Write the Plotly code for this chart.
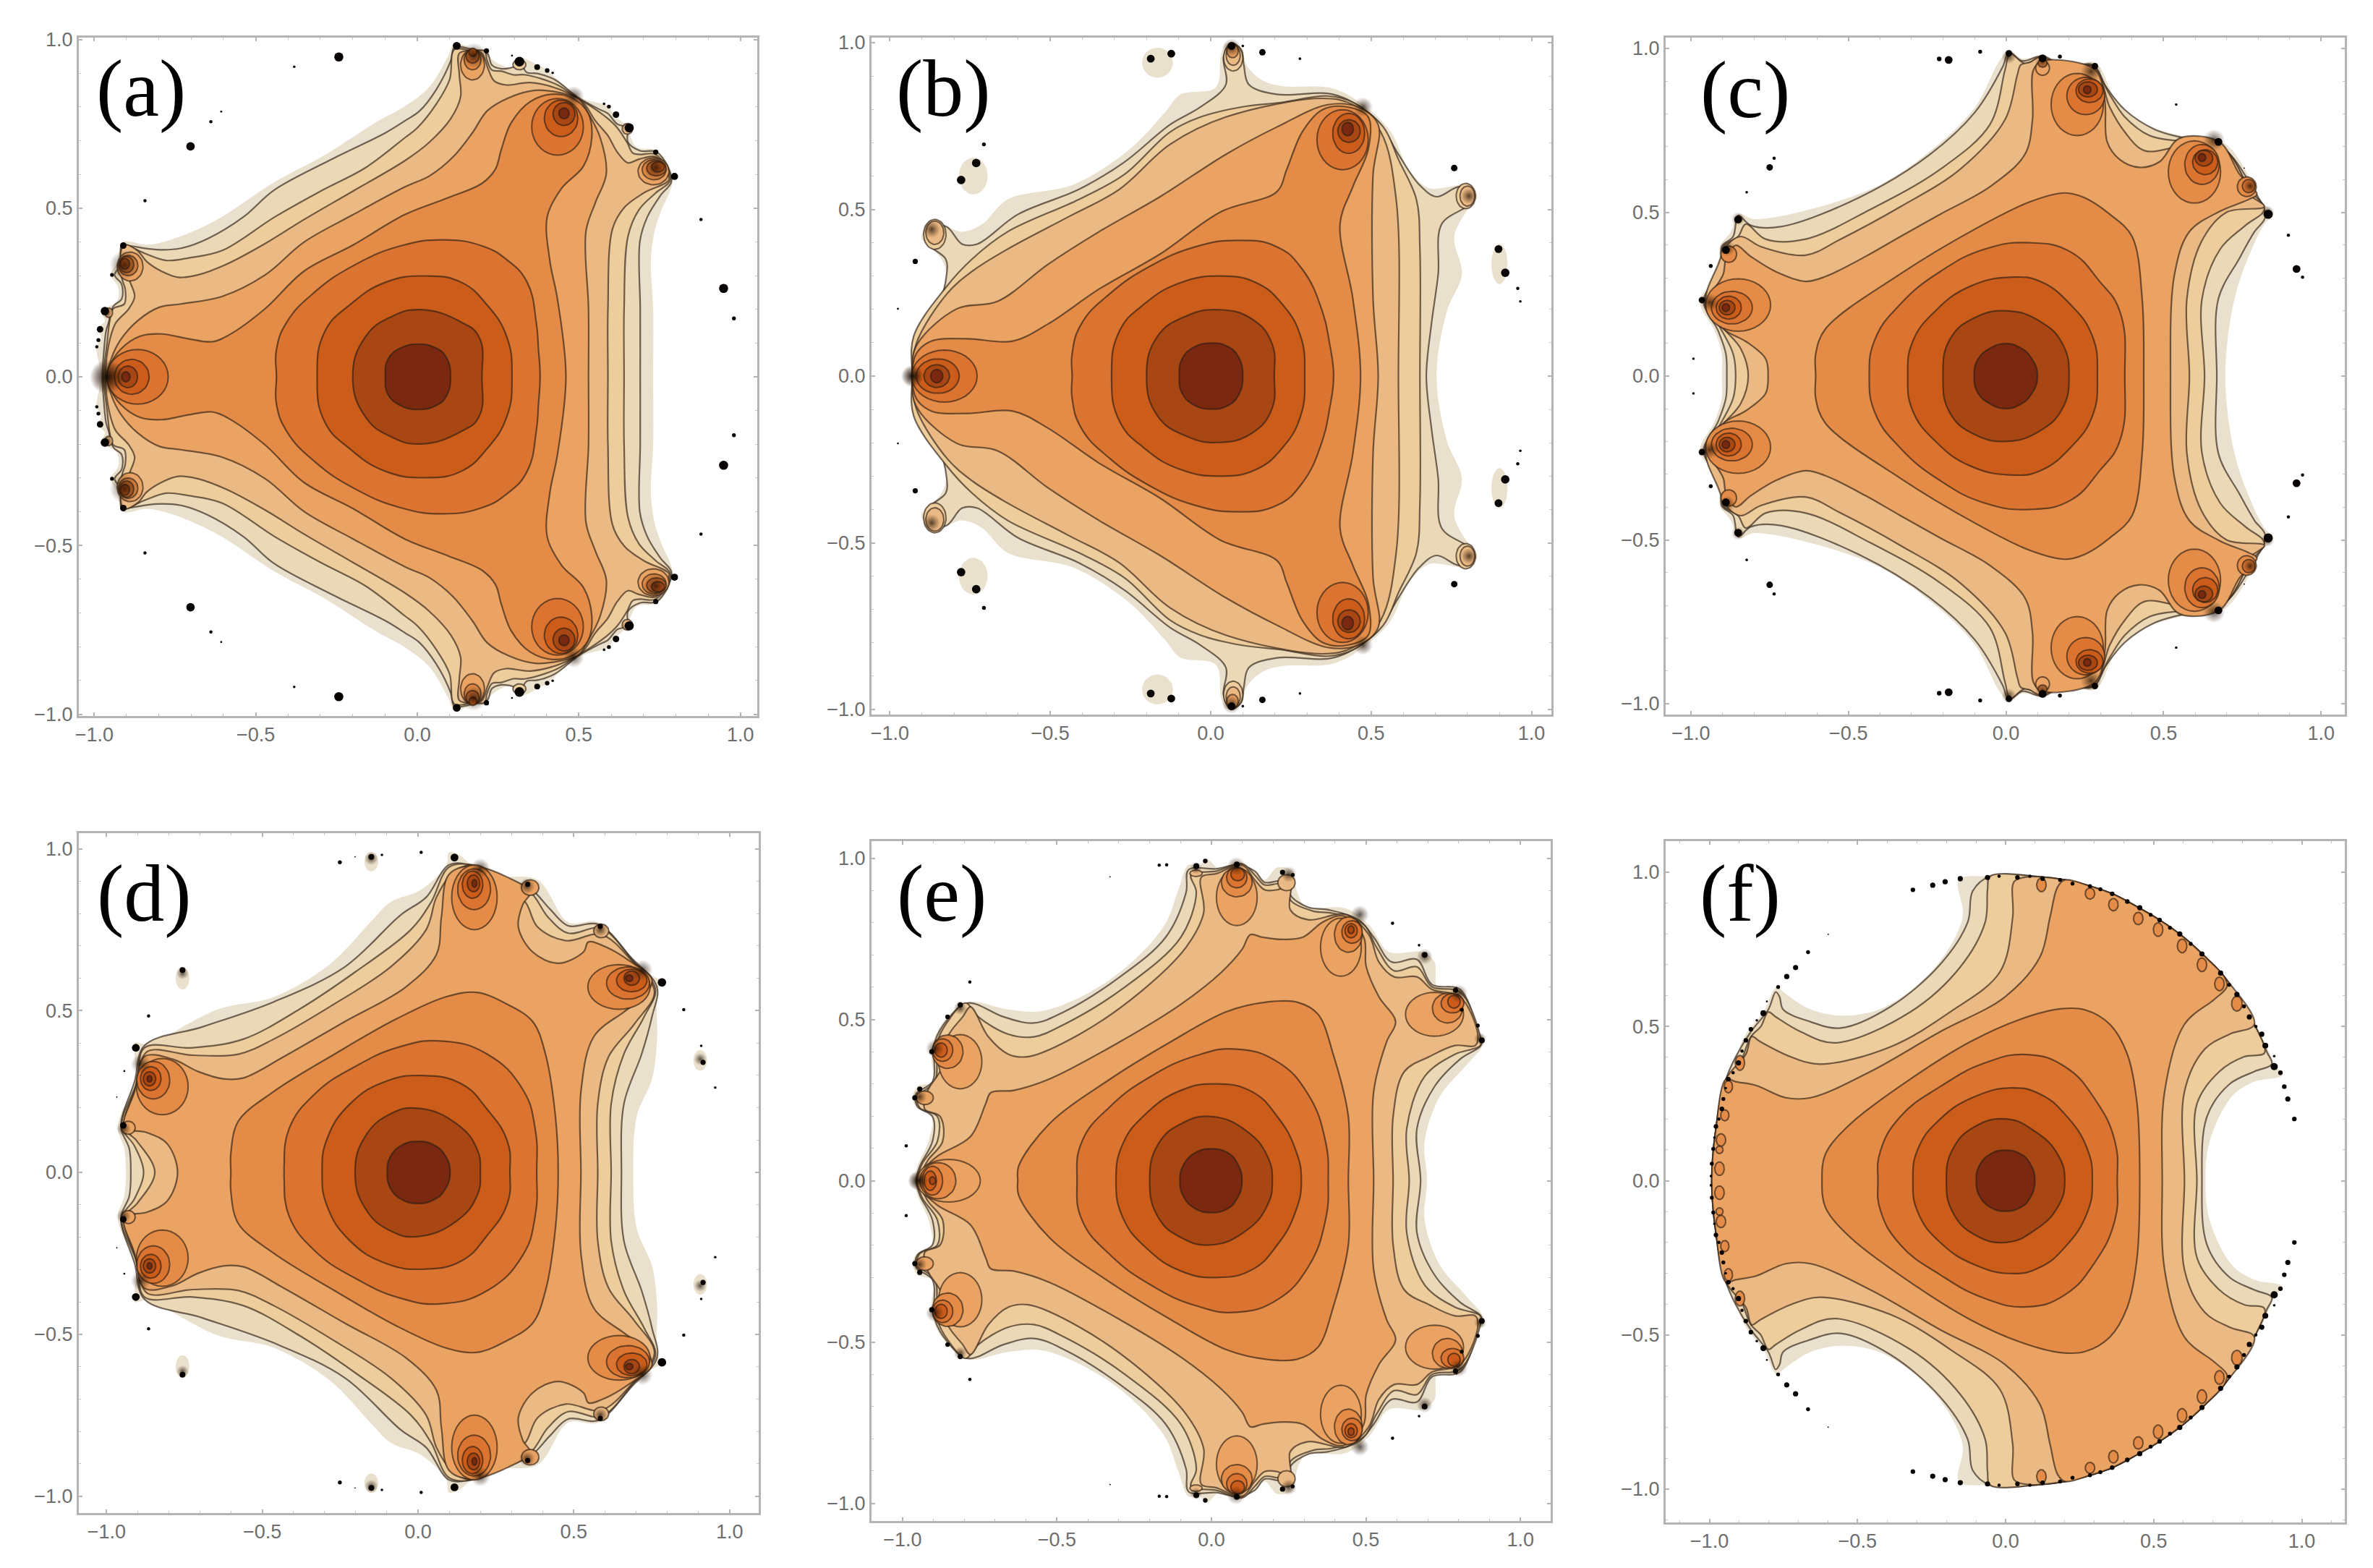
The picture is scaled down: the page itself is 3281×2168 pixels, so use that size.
import numpy as np
import plotly.graph_objects as go

# Band colours, outermost (c0) to innermost (c9)
BAND_COLORS = ["#E9E0CD", "#EAD8B6", "#EECD9D", "#EBB983", "#EAA362",
               "#E48C47", "#DB7431", "#CC5C1A", "#A84714", "#7A2810"]
LINE_COLOR = "rgba(45,30,20,0.66)"
PANEL_NAMES = ["(a)", "(b)", "(c)", "(d)", "(e)", "(f)"]
TICK_VALUES = [-1.0, -0.5, 0.0, 0.5, 1.0]

# ---------- panel (a): upper-half contour curves, data coordinates ----------
A_EDGE = [(.73,0),(.73,.2),(.723,.345),(.734,.431),(.753,.488),(.79,.588),(.742,.67),(.678,.681),(.645,.745),(.611,.774),(.589,.802),(.507,.827),(.425,.888),(.402,.909),(.372,.924),(.32,.945),(.29,.916),(.26,.924),(.227,.945),(.216,.966),(.171,.974),(.115,.988),(.096,.952),(.037,.859),(-.038,.802),(-.13,.753),(-.287,.657),(-.444,.576),(-.605,.474),(-.695,.431),(-.777,.402),(-.837,.391),(-.911,.399),(-.93,.338),(-.949,.302),(-.926,.266),(-.93,.224),(-.978,.195),(-.967,.166),(-.99,.141),(-.978,.116),(-.993,.088),(-.978,0)]
A_L1 = [(.69,0),(.69,.2),(.689,.402),(.712,.474),(.753,.538),(.787,.581),(.742,.666),(.69,.67),(.652,.695),(.649,.738),(.619,.749),(.589,.781),(.559,.795),(.499,.827),(.425,.881),(.372,.899),(.339,.902),(.32,.924),(.29,.916),(.26,.913),(.231,.924),(.216,.959),(.171,.97),(.115,.977),(.104,.938),(.059,.852),(.007,.788),(-.038,.759),(-.099,.723),(-.271,.642),(-.444,.553),(-.538,.474),(-.65,.409),(-.732,.381),(-.807,.377),(-.889,.388),(-.915,.391),(-.919,.331),(-.937,.302),(-.915,.274),(-.915,.231),(-.941,.209),(-.956,.159),(-.963,.138),(-.971,.066),(-.975,0)]
A_L2 = [(.64,0),(.64,.2),(.652,.416),(.686,.495),(.738,.545),(.783,.584),(.738,.659),(.69,.659),(.667,.663),(.649,.695),(.619,.738),(.589,.766),(.537,.802),(.499,.824),(.432,.866),(.335,.895),(.298,.895),(.26,.906),(.231,.909),(.216,.938),(.208,.966),(.171,.966),(.115,.97),(.1,.881),(.059,.809),(0,.738),(-.038,.709),(-.16,.62),(-.3,.55),(-.441,.474),(-.605,.374),(-.71,.352),(-.777,.345),(-.844,.366),(-.9,.388),(-.911,.384),(-.915,.295),(-.904,.259),(-.907,.216),(-.941,.202),(-.952,.166),(-.96,.102),(-.971,0)]
A_L3 = [(.59,0),(.59,.2),(.604,.438),(.641,.502),(.701,.545),(.779,.584),(.768,.613),(.738,.652),(.686,.645),(.652,.634),(.619,.666),(.589,.716),(.551,.759),(.51,.816),(.44,.852),(.35,.872),(.275,.865),(.238,.877),(.219,.913),(.2,.959),(.171,.966),(.13,.959),(.13,.895),(.134,.831),(.104,.766),(.037,.695),(-.038,.641),(-.2,.55),(-.351,.466),(-.471,.395),(-.59,.334),(-.68,.302),(-.74,.295),(-.792,.313),(-.837,.341),(-.866,.374),(-.907,.391),(-.919,.352),(-.889,.281),(-.875,.238),(-.893,.202),(-.934,.159),(-.952,.109),(-.963,.045),(-.965,0)]
A_L4 = [(.53,0),(.53,.2),(.522,.431),(.551,.516),(.585,.602),(.566,.709),(.529,.781),(.499,.824),(.447,.841),(.365,.849),(.283,.827),(.216,.788),(.171,.724),(.111,.652),(.037,.595),(-.038,.563),(-.2,.48),(-.351,.399),(-.471,.302),(-.605,.238),(-.732,.216),(-.799,.206),(-.866,.166),(-.919,.109),(-.948,.052),(-.96,0)]
A_L5 = [(.46,0),(.434,.229),(.41,.345),(.402,.474),(.447,.559),(.514,.624),(.54,.709),(.529,.781),(.484,.824),(.425,.838),(.35,.816),(.29,.752),(.26,.674),(.242,.616),(.201,.574),(.096,.531),(-.038,.481),(-.2,.39),(-.351,.313),(-.471,.202),(-.583,.124),(-.635,.104),(-.71,.113),(-.792,.127),(-.859,.12),(-.919,.081),(-.952,.031),(-.956,0)]
A_L6 = [(.38,0),(.375,.081),(.368,.162),(.34,.28),(.277,.347),(.2,.388),(.08,.406),(-.052,.388),(-.193,.332),(-.318,.251),(-.404,.162),(-.436,.081),(-.436,0)]
A_L7 = [(.293,0),(.277,.118),(.215,.214),(.136,.28),(.027,.299),(-.099,.28),(-.208,.214),(-.287,.133),(-.31,0)]
A_L8 = [(.2,0),(.191,.118),(.136,.162),(.011,.199),(-.083,.177),(-.161,.118),(-.2,0)]
A_L9 = [(.103,0),(.089,.059),(.058,.085),(.003,.097),(-.052,.085),(-.091,.052),(-.099,0)]
# closed side lobes: centre x, centre y, half width, half height, band index
A_LOBES = [(.434,.741,.08,.084,6),(.445,.766,.052,.054,7),(.454,.779,.034,.034,8),(.454,.781,.016,.016,9),
           (.171,.925,.037,.045,4),(.171,.94,.026,.03,5),(.171,.95,.02,.02,6),(.172,.962,.012,.012,7),
           (.731,.609,.048,.04,4),(.733,.614,.037,.03,5),(.74,.618,.03,.022,6),(.745,.622,.02,.015,7),
           (-.889,.327,.04,.043,4),(-.895,.33,.03,.03,5),(-.9,.333,.022,.024,6),(-.905,.335,.014,.016,7),
           (-.866,0,.095,.081,6),(-.884,0,.054,.052,7),(-.896,0,.03,.032,8),(-.902,0,.013,.015,9),
           (-.955,.19,.012,.014,3),(.65,.735,.016,.016,3),(.316,.925,.02,.015,2)]
A_GLOW = [(.175,.952,42),(.484,.831,34),(.738,.62,42),(-.907,.331,48),(-.96,0,56),(.65,.74,16),(-.96,.19,18)]
A_DOTS = [(.122,.981,12),(.214,.966,8),(.316,.934,15),(.371,.918,9),(.402,.908,7),(.419,.901,4),(.578,.809,4),(.593,.801,6),(.615,.777,10),(.656,.738,14),(.738,.666,8),(.796,.594,11),(-.91,.389,10),(-.945,.302,6),(-.967,.195,13),(-.982,.141,10),(-.987,.109,6),(-.992,.089,5),
          (-.243,.948,14),(-.381,.919,4),(-.639,.756,5),(-.607,.786,3),(-.702,.683,13),(-.843,.522,5),(.878,.466,5),(.948,.262,14),(.98,.173,6),(.293,.952,3)]

# ---------- panel (b) ----------
B_EDGE = [(.704,0),(.736,.194),(.783,.306),(.759,.418),(.807,.508),(.831,.538),(.807,.575),(.744,.568),(.68,.564),(.617,.62),(.562,.732),(.475,.814),(.38,.863),(.222,.87),(.158,.889),(.111,.934),(.095,.986),(.047,.997),(.032,.963),(.016,.866),(-.095,.844),(-.142,.792),(-.253,.68),(-.427,.575),(-.633,.53),(-.712,.456),(-.775,.433),(-.823,.448),(-.87,.456),(-.902,.418),(-.839,.351),(-.823,.284),(-.878,.194),(-.926,.082),(-.93,0)]
B_L1 = [(.672,0),(.688,.157),(.709,.306),(.72,.456),(.807,.515),(.823,.545),(.775,.568),(.704,.538),(.649,.575),(.585,.665),(.522,.762),(.427,.829),(.364,.848),(.206,.845),(.119,.874),(.103,.934),(.095,.978),(.063,1.0),(.04,.956),(.047,.874),(-.032,.807),(-.127,.754),(-.269,.642),(-.411,.56),(-.601,.485),(-.728,.396),(-.775,.396),(-.823,.448),(-.878,.452),(-.878,.396),(-.826,.351),(-.823,.306),(-.854,.194),(-.918,.082),(-.93,0)]
B_L2 = [(.652,0),(.652,.381),(.641,.53),(.585,.65),(.538,.747),(.443,.821),(.364,.84),(.222,.821),(.095,.807),(-.032,.777),(-.127,.732),(-.269,.605),(-.411,.53),(-.633,.433),(-.744,.351),(-.823,.269),(-.926,.119),(-.93,0)]
B_L3 = [(.585,0),(.578,.53),(.53,.732),(.443,.814),(.348,.833),(.047,.777),(-.127,.695),(-.285,.56),(-.443,.478),(-.633,.381),(-.744,.314),(-.823,.246),(-.918,.097),(-.93,0)]
B_L4 = [(.522,0),(.506,.232),(.506,.605),(.522,.754),(.459,.807),(.364,.814),(.206,.747),(.047,.665),(-.158,.538),(-.348,.433),(-.506,.336),(-.665,.224),(-.791,.202),(-.918,.09),(-.93,0)]
B_L5 = [(.467,0),(.443,.232),(.403,.456),(.443,.568),(.491,.68),(.491,.777),(.427,.807),(.348,.799),(.285,.732),(.237,.62),(.206,.553),(.032,.493),(-.158,.366),(-.348,.261),(-.506,.157),(-.617,.105),(-.759,.112),(-.87,.105),(-.918,.067),(-.93,0)]
B_L6 = [(.383,0),(.37,.1),(.348,.194),(.285,.321),(.206,.388),(.08,.407),(-.047,.388),(-.19,.329),(-.316,.246),(-.403,.157),(-.432,.067),(-.432,0)]
B_L7 = [(.293,0),(.28,.12),(.222,.217),(.142,.28),(.032,.3),(-.095,.28),(-.206,.217),(-.285,.134),(-.309,0)]
B_L8 = [(.198,0),(.19,.1),(.127,.172),(.024,.199),(-.079,.179),(-.166,.119),(-.2,0)]
B_L9 = [(.1,0),(.085,.06),(.05,.09),(0,.099),(-.055,.085),(-.09,.05),(-.098,0)]
B_LOBES = [(-.166,.94,.048,.045,0),(-.74,.6,.045,.055,0),(.9,.336,.025,.06,0),
           (.411,.709,.08,.09,6),(.43,.728,.05,.06,7),(.431,.735,.035,.034,8),(.427,.741,.018,.02,9),
           (-.83,0,.102,.078,6),(-.851,0,.067,.052,7),(-.854,0,.04,.034,8),(-.854,0,.019,.02,9),
           (.07,.955,.03,.04,2),(.07,.962,.022,.03,3),(.068,.975,.018,.02,4),
           (-.86,.425,.035,.045,2),(-.86,.43,.028,.035,3),(.795,.54,.03,.038,2),(.8,.54,.023,.03,3)]
B_GLOW = [(.475,.807,32),(.065,.985,30),(.805,.54,26),(-.87,.44,28),(-.93,0,36)]
B_DOTS = [(-.707,.695,6),(-.921,.344,8),(-.975,.202,3),(.759,.624,10),(.161,.971,10),(.278,.952,4),(.957,.263,5),(.965,.224,4),(.897,.381,12),(.918,.31,13),(-.731,.639,13),(-.778,.588,13),(-.187,.952,12),(-.123,.967,12),(.065,.99,12),(.1,.99,4)]

# ---------- panel (c) ----------
C_EDGE = [(.696,0),(.725,.236),(.78,.388),(.82,.464),(.848,.494),(.804,.54),(.788,.578),(.693,.711),(.566,.731),(.44,.768),(.361,.821),(.297,.943),(.274,.958),(.187,.95),(.116,.979),(.052,.969),(.009,.992),(-.019,.965),(-.098,.821),(-.225,.699),(-.43,.57),(-.794,.479),(-.85,.494),(-.873,.441),(-.908,.395),(-.908,.312),(-.972,.232),(-.924,.137),(-.902,.068),(-.902,0)]
C_L1 = [(.669,0),(.674,.236),(.741,.36),(.788,.44),(.823,.487),(.78,.578),(.685,.699),(.566,.726),(.472,.753),(.377,.813),(.313,.889),(.274,.95),(.187,.943),(.116,.977),(.052,.962),(.009,.988),(-.011,.943),(-.098,.806),(-.241,.677),(-.462,.547),(-.715,.456),(-.81,.46),(-.85,.49),(-.866,.426),(-.902,.395),(-.902,.319),(-.96,.232),(-.913,.137),(-.889,.068),(-.886,0)]
C_L2 = [(.63,0),(.622,.236),(.68,.388),(.76,.46),(.82,.509),(.772,.57),(.693,.692),(.566,.715),(.456,.734),(.377,.791),(.329,.859),(.274,.946),(.187,.939),(.116,.973),(.06,.954),(.013,.984),(-.003,.935),(-.051,.768),(-.209,.631),(-.43,.509),(-.636,.418),(-.763,.418),(-.826,.464),(-.85,.426),(-.897,.395),(-.897,.319),(-.956,.228),(-.905,.144),(-.866,.068),(-.858,0)]
C_L3 = [(.582,0),(.574,.236),(.62,.41),(.7,.5),(.82,.517),(.772,.555),(.756,.6),(.685,.699),(.566,.703),(.44,.688),(.377,.745),(.329,.821),(.282,.943),(.203,.943),(.139,.946),(.108,.973),(.076,.958),(.047,.95),(.036,.92),(-.003,.783),(-.146,.631),(-.335,.517),(-.525,.418),(-.636,.369),(-.778,.395),(-.842,.426),(-.889,.395),(-.913,.342),(-.953,.228),(-.902,.152),(-.842,.084),(-.818,0)]
C_L4 = [(.522,0),(.535,.312),(.582,.441),(.677,.502),(.772,.54),(.796,.555),(.741,.616),(.677,.715),(.551,.726),(.487,.654),(.424,.637),(.361,.661),(.321,.715),(.313,.844),(.282,.935),(.116,.962),(.087,.935),(.084,.783),(.06,.677),(-.051,.578),(-.209,.494),(-.335,.426),(-.446,.365),(-.573,.304),(-.636,.289),(-.731,.319),(-.81,.365),(-.858,.399),(-.889,.357),(-.897,.312),(-.945,.22),(-.897,.144),(-.826,.106),(-.763,.053),(-.755,0)]
C_L5 = [(.437,0),(.432,.236),(.4,.426),(.329,.494),(.25,.544),(.187,.559),(.076,.532),(-.098,.449),(-.335,.312),(-.573,.144),(-.604,.068),(-.604,0)]
C_L6 = [(.377,0),(.361,.198),(.297,.289),(.203,.38),(.076,.407),(-.066,.388),(-.209,.319),(-.335,.22),(-.415,.114),(-.434,0)]
C_L7 = [(.29,0),(.274,.122),(.203,.22),(.108,.289),(.02,.302),(-.114,.274),(-.225,.198),(-.296,.106),(-.312,0)]
C_L8 = [(.2,0),(.179,.099),(.108,.167),(.005,.199),(-.098,.179),(-.177,.114),(-.2,0)]
C_L9 = [(.1,0),(.076,.061),(.044,.087),(0,.099),(-.05,.085),(-.09,.05),(-.101,0)]
C_LOBES = [(.226,.829,.083,.095,5),(.253,.855,.06,.057,6),(.265,.871,.043,.036,7),(.26,.875,.03,.023,8),(.258,.874,.012,.012,9),
           (.598,.623,.083,.095,5),(.622,.646,.055,.061,6),(.632,.653,.04,.038,7),(.628,.665,.028,.024,8),(.622,.667,.012,.012,9),
           (-.85,.217,.103,.08,5),(-.87,.209,.065,.05,6),(-.88,.209,.04,.035,7),(-.885,.209,.025,.022,8),(-.889,.209,.012,.012,9),
           (.764,.578,.03,.03,5),(.77,.58,.02,.02,6),(.116,.94,.022,.022,4),(.116,.955,.014,.012,5),(-.88,.372,.025,.025,5)]
C_GLOW = [(.27,.93,34),(.66,.72,36),(-.94,.225,30),(.116,.96,24),(.775,.58,24),(-.885,.39,26),(.009,.975,24),(.83,.5,22),(-.85,.48,22)]
C_DOTS = [(.009,.985,10),(.116,.97,12),(.282,.946,10),(.674,.715,12),(.832,.494,14),(-.85,.478,12),(-.889,.385,12),(-.965,.232,10),
          (-.212,.968,7),(-.182,.965,12),(-.082,.99,6),(.171,.975,6),(-.736,.665,5),(-.75,.637,10),(-.823,.561,4),(-.937,.336,6),(-.992,.053,4),(.54,.829,4),(.896,.43,5),(.922,.327,12),(.941,.302,5),(.756,.635,2)]

# ---------- panel (d) ----------
D_EDGE = [(.691,0),(.702,.173),(.751,.289),(.767,.404),(.772,.573),(.792,.589),(.759,.604),(.678,.662),(.58,.773),(.482,.773),(.384,.904),(.262,.916),(.173,.95),(.132,.981),(.099,.989),(.091,.95),(.01,.873),(-.088,.835),(-.153,.773),(-.283,.643),(-.463,.542),(-.642,.504),(-.87,.396),(-.91,.4),(-.91,.366),(-.906,.289),(-.964,.142),(-.943,.073),(-.938,0)]
D_L1 = [(.653,0),(.661,.212),(.718,.366),(.751,.481),(.767,.573),(.686,.662),(.58,.766),(.482,.762),(.425,.812),(.36,.877),(.262,.912),(.165,.95),(.099,.95),(.026,.85),(-.055,.796),(-.235,.635),(-.463,.527),(-.691,.45),(-.878,.392),(-.91,.281),(-.954,.142),(-.927,.073),(-.922,0)]
D_L2 = [(.62,0),(.62,.212),(.661,.366),(.726,.481),(.762,.566),(.686,.658),(.588,.754),(.482,.739),(.417,.789),(.36,.866),(.262,.904),(.173,.95),(.099,.943),(.042,.835),(-.023,.75),(-.202,.619),(-.381,.504),(-.56,.412),(-.723,.385),(-.878,.385),(-.902,.281),(-.951,.142),(-.91,.081),(-.881,0)]
D_L3 = [(.577,0),(.577,.212),(.612,.358),(.694,.458),(.759,.558),(.686,.654),(.588,.735),(.474,.716),(.384,.758),(.344,.835),(.303,.854),(.27,.873),(.173,.95),(.107,.92),(.059,.85),(.026,.75),(-.088,.635),(-.283,.512),(-.463,.412),(-.577,.365),(-.723,.362),(-.87,.373),(-.899,.281),(-.943,.139),(-.902,.096),(-.845,0)]
D_L4 = [(.523,0),(.523,.25),(.564,.419),(.661,.496),(.726,.543),(.751,.596),(.678,.654),(.604,.696),(.547,.712),(.531,.681),(.45,.646),(.368,.681),(.322,.758),(.336,.827),(.36,.866),(.287,.912),(.173,.947),(.099,.92),(.075,.789),(.059,.673),(-.039,.573),(-.235,.466),(-.43,.358),(-.56,.292),(-.625,.289),(-.707,.312),(-.788,.35),(-.878,.358),(-.91,.25),(-.943,.139),(-.87,.123),(-.805,.088),(-.772,0)]
D_L5 = [(.45,0),(.441,.173),(.409,.366),(.368,.466),(.287,.519),(.189,.556),(.091,.543),(-.072,.473),(-.267,.366),(-.463,.25),(-.577,.158),(-.601,.058),(-.601,0)]
D_L6 = [(.381,0),(.376,.135),(.335,.258),(.221,.366),(.075,.406),(-.055,.389),(-.202,.327),(-.332,.242),(-.414,.135),(-.43,.019),(-.43,0)]
D_L7 = [(.295,0),(.287,.096),(.221,.196),(.14,.273),(.018,.299),(-.104,.281),(-.218,.212),(-.292,.104),(-.308,0)]
D_L8 = [(.2,0),(.189,.073),(.124,.15),(.002,.198),(-.088,.181),(-.169,.112),(-.202,0)]
D_L9 = [(.103,0),(.085,.055),(.05,.085),(0,.096),(-.05,.085),(-.088,.05),(-.099,0)]
D_LOBES = [(.181,.85,.073,.1,5),(.18,.875,.053,.063,6),(.175,.889,.033,.042,7),(.178,.893,.02,.026,8),(.181,.893,.008,.012,9),
           (.645,.573,.1,.069,5),(.674,.585,.069,.05,6),(.686,.593,.049,.035,7),(.686,.6,.025,.022,8),(.678,.6,.012,.01,9),
           (-.821,.265,.083,.087,5),(-.85,.285,.053,.058,6),(-.858,.29,.033,.037,7),(-.862,.289,.02,.022,8),(-.862,.289,.008,.01,9),
           (.36,.88,.028,.024,4),(.588,.746,.024,.021,3),(-.93,.138,.022,.02,4),
           (-.15,.96,.022,.03,0),(-.756,.6,.022,.035,0),(.906,.346,.022,.032,0)]
D_GLOW = [(.2,.94,32),(.72,.625,34),(-.89,.335,32),(.35,.885,26),(.585,.75,24),(-.945,.135,24),(-.15,.97,22),(-.756,.615,20),(.906,.35,20)]
D_DOTS = [(.117,.973,12),(.352,.89,8),(.585,.76,8),(.783,.587,13),(-.906,.385,12),(-.946,.145,10),
          (-.251,.958,6),(-.202,.975,2),(-.15,.975,9),(-.116,.981,4),(.01,.989,5),(-.756,.625,9),(-.865,.483,5),(-.943,.313,3),(-.967,.233,2),(.853,.503,5),(.909,.391,4),(.915,.34,8),(.954,.262,4)]

# ---------- panel (e) ----------
E_EDGE = [(.698,0),(.69,.122),(.739,.261),(.821,.354),(.883,.431),(.862,.47),(.821,.539),(.796,.597),(.731,.601),(.722,.678),(.681,.709),(.575,.709),(.509,.794),(.435,.844),(.304,.852),(.271,.917),(.263,.96),(.213,.971),(.172,.933),(.131,.964),(.09,.987),(.025,.968),(-.016,.998),(-.041,.975),(-.074,.979),(-.107,.902),(-.156,.786),(-.328,.624),(-.542,.527),(-.657,.531),(-.788,.554),(-.854,.508),(-.895,.446),(-.906,.385),(-.903,.307),(-.952,.292),(-.966,.253),(-.956,.23),(-.906,.199),(-.916,.122),(-.952,.045),(-.961,0)]
E_L1 = [(.677,0),(.665,.161),(.722,.292),(.805,.377),(.874,.423),(.862,.462),(.805,.593),(.714,.608),(.665,.686),(.583,.678),(.525,.755),(.476,.809),(.378,.84),(.312,.848),(.255,.887),(.255,.933),(.213,.929),(.172,.925),(.14,.96),(.082,.979),(.016,.967),(-.074,.964),(-.082,.894),(-.148,.755),(-.296,.632),(-.476,.524),(-.575,.489),(-.673,.508),(-.788,.551),(-.854,.5),(-.895,.431),(-.903,.307),(-.956,.269),(-.952,.23),(-.903,.199),(-.903,.122),(-.944,.045),(-.956,0)]
E_L2 = [(.64,0),(.632,.161),(.69,.323),(.788,.392),(.87,.419),(.87,.446),(.805,.585),(.714,.601),(.665,.663),(.591,.651),(.534,.724),(.493,.794),(.394,.829),(.328,.836),(.255,.871),(.255,.925),(.213,.921),(.172,.917),(.14,.948),(.099,.983),(.016,.96),(-.066,.948),(-.049,.894),(-.099,.755),(-.279,.601),(-.476,.485),(-.575,.446),(-.657,.454),(-.755,.508),(-.796,.551),(-.854,.493),(-.887,.431),(-.895,.307),(-.952,.261),(-.944,.226),(-.887,.199),(-.887,.122),(-.936,.053),(-.952,0)]
E_L3 = [(.588,0),(.588,.199),(.624,.338),(.706,.385),(.788,.419),(.854,.419),(.862,.454),(.805,.57),(.714,.593),(.665,.632),(.591,.632),(.542,.678),(.509,.763),(.435,.825),(.312,.809),(.255,.84),(.255,.917),(.213,.902),(.172,.902),(.14,.933),(.099,.979),(.016,.952),(-.033,.941),(-.025,.832),(-.082,.724),(-.23,.585),(-.427,.454),(-.591,.385),(-.657,.392),(-.722,.446),(-.78,.539),(-.805,.508),(-.854,.446),(-.87,.354),(-.92,.276),(-.928,.222),(-.878,.199),(-.87,.122),(-.92,.06),(-.944,0)]
E_L4 = [(.525,0),(.525,.276),(.567,.431),(.596,.493),(.542,.57),(.501,.663),(.493,.755),(.427,.821),(.361,.802),(.296,.755),(.23,.748),(.164,.755),(.126,.763),(.099,.717),(.033,.647),(-.099,.547),(-.296,.431),(-.525,.315),(-.64,.28),(-.714,.273),(-.731,.238),(-.78,.137),(-.887,.076),(-.936,.029),(-.944,0)]
E_L5 = [(.443,0),(.443,.199),(.394,.392),(.345,.516),(.279,.553),(.181,.554),(.049,.524),(-.131,.431),(-.328,.315),(-.525,.176),(-.624,.045),(-.627,0)]
E_L6 = [(.378,0),(.369,.122),(.312,.269),(.213,.369),(.082,.408),(-.049,.388),(-.197,.323),(-.328,.23),(-.419,.122),(-.435,0)]
E_L7 = [(.291,0),(.271,.099),(.213,.199),(.131,.276),(.016,.3),(-.099,.28),(-.213,.207),(-.287,.114),(-.309,0)]
E_L8 = [(.197,0),(.181,.076),(.115,.153),(0,.199),(-.099,.176),(-.172,.114),(-.2,0)]
E_L9 = [(.099,0),(.08,.06),(.05,.088),(0,.099),(-.05,.088),(-.09,.05),(-.102,0)]
E_LOBES = [(.082,.879,.066,.088,4),(.082,.925,.05,.045,5),(.082,.94,.033,.032,6),(.085,.95,.022,.02,7),
           (.419,.724,.066,.09,4),(.443,.763,.045,.055,5),(.455,.771,.033,.035,6),(.452,.775,.02,.022,7),(.452,.778,.01,.012,8),
           (.722,.516,.094,.068,4),(.764,.535,.049,.046,5),(.78,.55,.037,.03,6),(.785,.555,.02,.02,7),
           (-.813,.369,.07,.084,4),(-.854,.4,.05,.052,5),(-.87,.405,.033,.035,6),(-.875,.405,.02,.022,7),
           (-.851,0,.103,.066,4),(-.885,0,.058,.056,5),(-.903,0,.033,.045,6),(-.91,0,.02,.03,7),(-.903,0,.01,.012,8),
           (.243,.924,.028,.025,3),(-.928,.257,.028,.021,4),(-.05,.953,.02,.01,3)]
E_GLOW = [(.08,.975,30),(.25,.95,26),(.48,.825,30),(.69,.695,26),(.8,.58,30),(-.813,.535,22),(-.895,.41,30),(-.945,.26,24),(-.95,0,32),(-.05,.97,20),(.87,.44,20)]
E_DOTS = [(-.049,.975,9),(-.02,.991,7),(.082,.98,9),(.23,.956,8),(.263,.948,6),(.69,.7,9),(.79,.59,8),(.81,.53,6),(.862,.481,6),(.875,.435,9),(-.813,.545,8),(-.854,.508,7),(-.905,.4,8),(-.944,.284,8),(-.96,.257,8),
          (-.169,.978,5),(-.145,.979,5),(-.328,.942,2),(-.782,.616,5),(-.988,.108,5),(.586,.798,5),(.672,.73,4),(.793,.599,2)]

# ---------- panel (f) ----------
F_EDGE = [(.675,0),(.689,.128),(.764,.273),(.84,.321),(.933,.342),(.907,.378),(.882,.434),(.848,.499),(.739,.66),(.68,.72),(.6,.79),(.52,.845),(.44,.89),(.36,.93),(.285,.955),(.2,.975),(.116,.985),(-.052,.987),(-.157,.975),(-.145,.854),(-.237,.693),(-.406,.564),(-.54,.535),(-.658,.555),(-.751,.612),(-.773,.628),(-.818,.547),(-.877,.475),(-.911,.402),(-.944,.329),(-.978,.168),(-.992,0)]
F_L1 = [(.663,0),(.68,.208),(.756,.313),(.84,.354),(.899,.378),(.882,.418),(.848,.491),(.739,.66),(.68,.72),(.6,.79),(.52,.845),(.44,.89),(.36,.93),(.285,.955),(.2,.975),(.116,.985),(-.052,.987),(-.111,.939),(-.128,.838),(-.221,.701),(-.389,.564),(-.557,.495),(-.658,.515),(-.751,.555),(-.763,.596),(-.776,.612),(-.801,.555),(-.86,.483),(-.911,.402),(-.944,.329),(-.978,.168),(-.992,0)]
F_L2 = [(.646,0),(.646,.249),(.722,.354),(.806,.402),(.874,.414),(.848,.491),(.739,.66),(.68,.72),(.6,.79),(.52,.845),(.44,.89),(.36,.93),(.285,.955),(.2,.975),(.116,.985),(-.052,.987),(-.061,.943),(-.069,.838),(-.153,.693),(-.322,.547),(-.574,.447),(-.692,.483),(-.776,.531),(-.801,.547),(-.827,.499),(-.86,.467),(-.902,.37),(-.944,.329),(-.978,.168),(-.992,0)]
F_L3 = [(.604,0),(.604,.289),(.672,.426),(.756,.475),(.84,.507),(.739,.66),(.68,.72),(.6,.79),(.52,.845),(.44,.89),(.36,.93),(.285,.955),(.2,.975),(.116,.985),(.074,.985),(.029,.97),(.024,.854),(-.019,.677),(-.187,.547),(-.389,.434),(-.625,.378),(-.726,.402),(-.827,.45),(-.857,.467),(-.877,.41),(-.944,.329),(-.978,.168),(-.992,0)]
F_L4 = [(.529,0),(.537,.289),(.604,.507),(.705,.588),(.747,.628),(.739,.66),(.68,.72),(.6,.79),(.52,.845),(.44,.89),(.36,.93),(.285,.955),(.2,.975),(.175,.951),(.15,.854),(.116,.725),(-.002,.596),(-.221,.483),(-.456,.354),(-.658,.269),(-.742,.269),(-.843,.309),(-.911,.321),(-.944,.329),(-.978,.168),(-.992,0)]
F_L5 = [(.453,0),(.444,.249),(.411,.41),(.352,.507),(.268,.554),(.184,.557),(.049,.523),(-.12,.45),(-.322,.329),(-.524,.184),(-.608,.087),(-.62,0)]
F_L6 = [(.377,0),(.369,.128),(.301,.265),(.2,.37),(.074,.409),(-.069,.382),(-.221,.305),(-.355,.208),(-.423,.095),(-.431,0)]
F_L7 = [(.293,0),(.276,.103),(.2,.216),(.116,.281),(.024,.301),(-.103,.273),(-.221,.2),(-.296,.103),(-.313,0)]
F_L8 = [(.2,0),(.175,.087),(.099,.16),(.003,.2),(-.103,.176),(-.178,.103),(-.2,0)]
F_L9 = [(.099,0),(.08,.06),(.05,.087),(0,.099),(-.05,.087),(-.088,.05),(-.099,0)]
F_LOBES = [(.121,.959,.016,.022,5),(.285,.931,.016,.018,5),(.364,.895,.016,.02,5),(.448,.85,.016,.02,5),(.515,.814,.016,.022,5),(.596,.761,.016,.022,5),(.663,.7,.016,.022,5),(.722,.638,.016,.022,5),(.781,.574,.018,.024,5),
           (-.897,.382,.016,.024,5),(-.936,.305,.014,.02,5),(-.948,.212,.014,.018,5),(-.961,.132,.016,.02,5),(-.966,.039,.016,.022,5),(-.966,.1,.012,.012,5)]
F_GLOW = []
F_DOTS = [(-.153,.979,8),(-.061,.983,8),(-.022,.987,5),(.04,.983,7),(.082,.987,5),(.125,.979,7),(.184,.975,6),(.226,.963,6),(.285,.955,6),(.32,.945,6),(.36,.93,7),(.411,.905,7),(.453,.885,8),(.49,.862,6),(.52,.845,7),(.555,.82,6),(.588,.8,8),(.625,.768,6),(.663,.735,8),(.726,.673,8),(.755,.635,6),(.781,.604,8),(.805,.565,6),(.823,.531,8),(.845,.5,5),(.865,.475,8),(.877,.438,9),(.907,.37,11),(.928,.35,7),
          (-.768,.628,6),(-.818,.543,9),(-.84,.52,4),(-.86,.491,7),(-.877,.455,7),(-.89,.42,5),(-.902,.382,8),(-.92,.35,5),(-.936,.329,7),(-.945,.3,4),(-.953,.265,6),(-.958,.233,7),(-.968,.2,5),(-.978,.176,7),(-.983,.14,4),(-.987,.103,6),(-.992,.055,6),(-.995,.015,4),
          (-.313,.943,7),(-.246,.958,8),(-.204,.969,8),(-.599,.799,2),(-.667,.741,6),(-.709,.691,8),(-.739,.662,8),(.941,.305,7),(.953,.265,8),(.975,.2,7),(.907,.404,4),(-.806,.581,3)]

PANELS = [
    dict(levels=[A_EDGE,A_L1,A_L2,A_L3,A_L4,A_L5,A_L6,A_L7,A_L8,A_L9], lobes=A_LOBES, glow=A_GLOW, dots=A_DOTS),
    dict(levels=[B_EDGE,B_L1,B_L2,B_L3,B_L4,B_L5,B_L6,B_L7,B_L8,B_L9], lobes=B_LOBES, glow=B_GLOW, dots=B_DOTS),
    dict(levels=[C_EDGE,C_L1,C_L2,C_L3,C_L4,C_L5,C_L6,C_L7,C_L8,C_L9], lobes=C_LOBES, glow=C_GLOW, dots=C_DOTS),
    dict(levels=[D_EDGE,D_L1,D_L2,D_L3,D_L4,D_L5,D_L6,D_L7,D_L8,D_L9], lobes=D_LOBES, glow=D_GLOW, dots=D_DOTS),
    dict(levels=[E_EDGE,E_L1,E_L2,E_L3,E_L4,E_L5,E_L6,E_L7,E_L8,E_L9], lobes=E_LOBES, glow=E_GLOW, dots=E_DOTS),
    dict(levels=[F_EDGE,F_L1,F_L2,F_L3,F_L4,F_L5,F_L6,F_L7,F_L8,F_L9], lobes=F_LOBES, glow=F_GLOW, dots=F_DOTS),
]

# Page layout (pixels of the 3281x2168 page): frame box and axis scale of each panel
W, H = 3281, 2168
FRAMES = [  # left, right, top, bottom, x origin, x px/unit, y origin, y px/unit
    (109, 1047, 52, 990, 577, 446.7, 521, 466.5),
    (1205, 2145, 52, 988, 1674, 443.6, 520, 461),
    (2303, 3242, 52, 988, 2773.6, 435.7, 520, 453),
    (109, 1049, 1152, 2092, 578, 430.7, 1621, 447.5),
    (1205, 2144, 1163, 2103, 1675, 427.2, 1632.5, 446),
    (2303, 3242, 1163, 2105, 2773, 409.5, 1632.5, 426.5),
]
LABEL_POS = [(195,122),(1304,122),(2413,124),(199,1235),(1302,1235),(2406,1235)]


def closed(points):
    xs = [p[0] for p in points]
    ys = [p[1] for p in points]
    return xs + xs[-2::-1], ys + [-v for v in ys[-2::-1]]


def oval(cx, cy, rx, ry):
    t = np.linspace(0, 2 * np.pi, 37)
    return cx + rx * np.cos(t), cy + ry * np.sin(t)


fig = go.Figure()
for i, (panel, fr) in enumerate(zip(PANELS, FRAMES)):
    ax = "" if i == 0 else str(i + 1)
    xa, ya = "x" + ax, "y" + ax
    for lev, pts in enumerate(panel["levels"]):
        xs, ys = closed(pts)
        fig.add_trace(go.Scatter(
            x=xs, y=ys, mode="lines", fill="toself", fillcolor=BAND_COLORS[lev],
            line=dict(color=LINE_COLOR if lev else "rgba(0,0,0,0)", width=2.2,
                      shape="spline", smoothing=1.3 if lev >= 6 else 1.0),
            hoverinfo="skip", xaxis=xa, yaxis=ya))
    for cx, cy, rx, ry, band in panel["lobes"]:
        for sign in ([1] if cy == 0 else [1, -1]):
            xs, ys = oval(cx, sign * cy, rx, ry)
            fig.add_trace(go.Scatter(
                x=xs, y=ys, mode="lines", fill="toself", fillcolor=BAND_COLORS[band],
                line=dict(color=LINE_COLOR if band else "rgba(0,0,0,0)", width=2),
                hoverinfo="skip", xaxis=xa, yaxis=ya))
    if panel["glow"]:
        gx = [g[0] for g in panel["glow"]] * 2
        gy = [g[1] for g in panel["glow"]] + [-g[1] for g in panel["glow"]]
        gs = [g[2] * 0.85 for g in panel["glow"]] * 2
        fig.add_trace(go.Scatter(
            x=gx, y=gy, mode="markers", hoverinfo="skip", xaxis=xa, yaxis=ya,
            marker=dict(size=gs, color="rgba(70,35,10,0)", line=dict(width=0),
                        gradient=dict(type="radial", color="rgba(10,5,0,0.97)"))))
    dx = [d[0] for d in panel["dots"]] * 2
    dy = [d[1] for d in panel["dots"]] + [-d[1] for d in panel["dots"]]
    ds = [d[2] * 0.9 for d in panel["dots"]] * 2
    fig.add_trace(go.Scatter(
        x=dx, y=dy, mode="markers", hoverinfo="skip", xaxis=xa, yaxis=ya,
        marker=dict(size=ds, color="#060302", opacity=1, line=dict(width=0))))

    left, right, top, bottom, x0, xs_, y0, ys_ = fr
    axis_common = dict(
        automargin=False,
        showline=True, linecolor="#b4b4b4", linewidth=3, mirror="allticks",
        showgrid=False, zeroline=False, ticks="inside", ticklen=5, tickwidth=1.5,
        tickcolor="#b4b4b4", tickvals=TICK_VALUES, tickformat=".1f",
        tickfont=dict(family="Liberation Sans", size=27, color="#6e6e6e"),
        minor=dict(ticks="inside", ticklen=3, tickwidth=1, tickcolor="#c4c4c4", dtick=0.1, tick0=0),
    )
    fig.layout["xaxis" + ax] = dict(
        axis_common, domain=[left / W, right / W],
        range=[(left - x0) / xs_, (right - x0) / xs_], anchor=ya)
    fig.layout["yaxis" + ax] = dict(
        axis_common, domain=[1 - bottom / H, 1 - top / H],
        range=[(y0 - bottom) / ys_, (y0 - top) / ys_], anchor=xa)
    lx, ly = LABEL_POS[i]
    fig.add_annotation(text=PANEL_NAMES[i], xref="paper", yref="paper", x=lx / W, y=1 - ly / H,
                       xanchor="center", yanchor="middle", showarrow=False,
                       font=dict(family="Liberation Serif", size=112, color="black"))

fig.update_layout(width=W, height=H, margin=dict(l=0, r=0, t=0, b=0), autosize=False,
                  showlegend=False, paper_bgcolor="white", plot_bgcolor="white")
fig.write_html("out.html", config={"displayModeBar": False})
with open("out.html", encoding="utf-8") as fh:
    page = fh.read()
page = page.replace("<body>", '<body style="margin:0;overflow:hidden">', 1)
with open("out.html", "w", encoding="utf-8") as fh:
    fh.write(page)
